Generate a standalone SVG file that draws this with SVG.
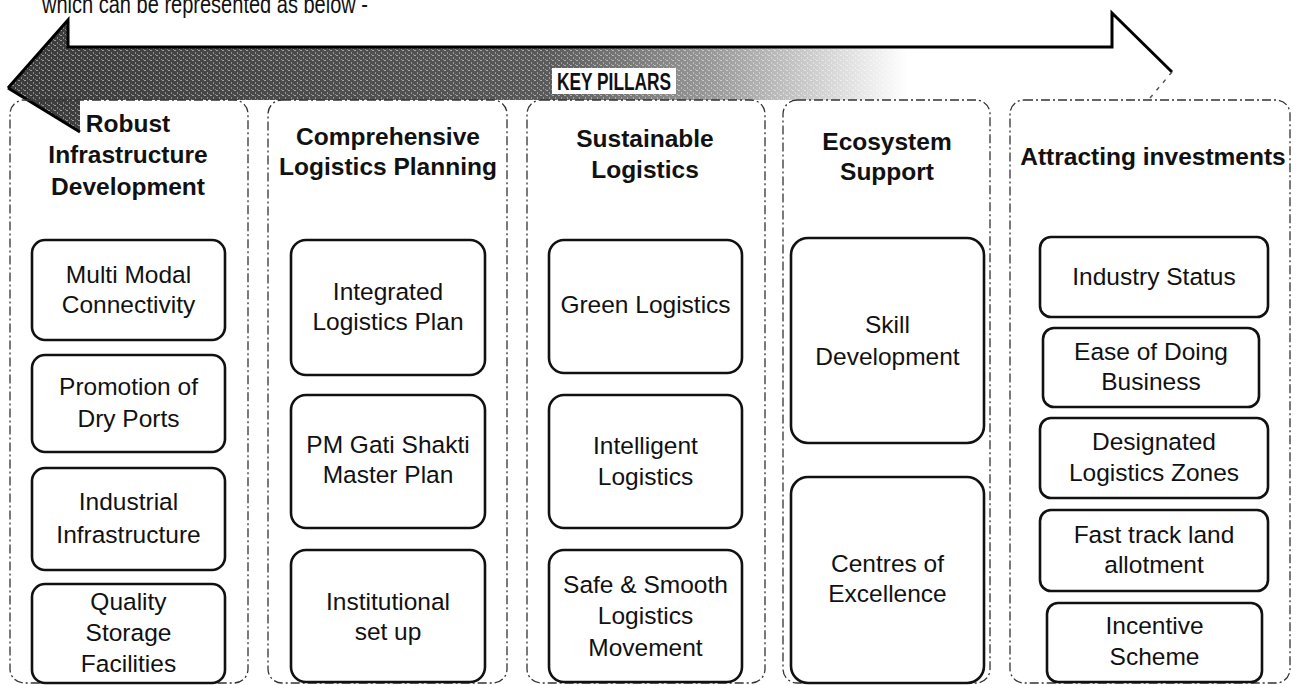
<svg xmlns="http://www.w3.org/2000/svg" width="1297" height="685" viewBox="0 0 1297 685">
<defs>
<linearGradient id="shaft" x1="0" y1="0" x2="1297" y2="0" gradientUnits="userSpaceOnUse">
<stop offset="0" stop-color="#3a3a3a"/>
<stop offset="0.42" stop-color="#5a5a5a"/>
<stop offset="0.55" stop-color="#9a9a9a"/>
<stop offset="0.70" stop-color="#ffffff"/>
<stop offset="1" stop-color="#ffffff"/>
</linearGradient>
<pattern id="noise" width="6" height="5" patternUnits="userSpaceOnUse">
<rect x="0" y="0" width="2" height="1" fill="#fff" opacity="0.6"/>
<rect x="3" y="2" width="1" height="2" fill="#fff" opacity="0.5"/>
<rect x="5" y="4" width="1" height="1" fill="#fff" opacity="0.5"/>
</pattern>
</defs>
<style>
.panel{fill:none;stroke:#333;stroke-width:1.3;stroke-dasharray:9 3 2 3}
.box{fill:#fff;stroke:#111;stroke-width:2.6}
.h{font-family:"Liberation Sans",Arial,sans-serif;font-weight:bold;font-size:24.5px;fill:#111;text-anchor:middle}
.t{font-family:"Liberation Sans",Arial,sans-serif;font-size:24.5px;fill:#111;text-anchor:middle}
.intro{font-family:"Liberation Sans",Arial,sans-serif;font-size:25px;fill:#111}
</style>
<rect width="1297" height="685" fill="#fff"/>
<text class="intro" x="42" y="13" textLength="326" lengthAdjust="spacingAndGlyphs">which can be represented as below -</text>

<g id="arrow">
<polygon points="8,88 68,20 68,47 1112,47 1112,13 1172,72 1120,128 1120,100 80,100 80,132" fill="url(#shaft)"/>
<polygon points="8,88 68,20 68,47 1112,47 1112,13 1172,72 1120,128 1120,100 80,100 80,132" fill="url(#noise)" opacity="0.8"/>
<path d="M8,88 L68,20 L68,47 L1112,47 L1112,13 L1172,72" fill="none" stroke="#000" stroke-width="3"/>
<path d="M8,88 L80,132" fill="none" stroke="#000" stroke-width="3"/>
<path d="M1172,72 L1150,98" fill="none" stroke="#555" stroke-width="1.5" stroke-dasharray="4 6"/>
<rect x="552" y="68" width="124" height="26" fill="#fff"/>
<text x="557" y="90" textLength="114" lengthAdjust="spacingAndGlyphs" style="font-family:'Liberation Sans',Arial,sans-serif;font-weight:bold;font-size:23px;fill:#111">KEY PILLARS</text>
</g>

<g id="panels">
<rect class="panel" x="10" y="100" width="238" height="583" rx="14"/>
<rect class="panel" x="268" y="100" width="239" height="583" rx="14"/>
<rect class="panel" x="527" y="100" width="238" height="583" rx="14"/>
<rect class="panel" x="783" y="100" width="207" height="583" rx="14"/>
<rect class="panel" x="1010" y="100" width="280" height="583" rx="14"/>
</g>

<g id="col1">
<text class="h" x="128" y="132">Robust</text>
<text class="h" x="128" y="163">Infrastructure</text>
<text class="h" x="128" y="195">Development</text>
</g>
<g id="col2">
<text class="h" x="388" y="145">Comprehensive</text>
<text class="h" x="388" y="175">Logistics Planning</text>
</g>
<g id="col3">
<text class="h" x="645" y="147">Sustainable</text>
<text class="h" x="645" y="178">Logistics</text>
</g>
<g id="col4">
<text class="h" x="887" y="150">Ecosystem</text>
<text class="h" x="887" y="180">Support</text>
</g>
<g id="col5">
<text class="h" x="1153" y="165">Attracting investments</text>
</g>

<g id="n-multimodal"><rect class="box" x="32" y="240" width="193" height="100" rx="13"/>
<text class="t" x="128.5" y="283">Multi Modal</text><text class="t" x="128.5" y="313">Connectivity</text></g>
<g id="n-dryports"><rect class="box" x="32" y="355" width="193" height="97" rx="13"/>
<text class="t" x="128.5" y="395">Promotion of</text><text class="t" x="128.5" y="427">Dry Ports</text></g>
<g id="n-industrial"><rect class="box" x="32" y="468" width="193" height="102" rx="13"/>
<text class="t" x="128.5" y="510">Industrial</text><text class="t" x="128.5" y="543">Infrastructure</text></g>
<g id="n-storage"><rect class="box" x="32" y="584" width="193" height="99" rx="13"/>
<text class="t" x="128.5" y="610">Quality</text><text class="t" x="128.5" y="641">Storage</text><text class="t" x="128.5" y="672">Facilities</text></g>

<g id="n-ilp"><rect class="box" x="291" y="240" width="194" height="135" rx="15"/>
<text class="t" x="388" y="300">Integrated</text><text class="t" x="388" y="330">Logistics Plan</text></g>
<g id="n-gati"><rect class="box" x="291" y="395" width="194" height="133" rx="15"/>
<text class="t" x="388" y="453">PM Gati Shakti</text><text class="t" x="388" y="483">Master Plan</text></g>
<g id="n-inst"><rect class="box" x="291" y="550" width="194" height="132" rx="15"/>
<text class="t" x="388" y="610">Institutional</text><text class="t" x="388" y="640">set up</text></g>

<g id="n-green"><rect class="box" x="549" y="240" width="193" height="133" rx="15"/>
<text class="t" x="645.5" y="313">Green Logistics</text></g>
<g id="n-intel"><rect class="box" x="549" y="395" width="193" height="133" rx="15"/>
<text class="t" x="645.5" y="454">Intelligent</text><text class="t" x="645.5" y="485">Logistics</text></g>
<g id="n-safe"><rect class="box" x="549" y="550" width="193" height="132" rx="15"/>
<text class="t" x="645.5" y="593">Safe &amp; Smooth</text><text class="t" x="645.5" y="624">Logistics</text><text class="t" x="645.5" y="656">Movement</text></g>

<g id="n-skill"><rect class="box" x="791" y="238" width="193" height="205" rx="17"/>
<text class="t" x="887.5" y="333">Skill</text><text class="t" x="887.5" y="365">Development</text></g>
<g id="n-coe"><rect class="box" x="791" y="477" width="193" height="206" rx="17"/>
<text class="t" x="887.5" y="572">Centres of</text><text class="t" x="887.5" y="602">Excellence</text></g>

<g id="n-status"><rect class="box" x="1040" y="237" width="228" height="80" rx="11"/>
<text class="t" x="1154" y="285">Industry Status</text></g>
<g id="n-ease"><rect class="box" x="1043" y="328" width="216" height="79" rx="11"/>
<text class="t" x="1151" y="360">Ease of Doing</text><text class="t" x="1151" y="390">Business</text></g>
<g id="n-zones"><rect class="box" x="1040" y="418" width="228" height="80" rx="11"/>
<text class="t" x="1154" y="450">Designated</text><text class="t" x="1154" y="481">Logistics Zones</text></g>
<g id="n-land"><rect class="box" x="1040" y="510" width="228" height="81" rx="11"/>
<text class="t" x="1154" y="543">Fast track land</text><text class="t" x="1154" y="573">allotment</text></g>
<g id="n-incentive"><rect class="box" x="1047" y="603" width="215" height="79" rx="11"/>
<text class="t" x="1154.5" y="634">Incentive</text><text class="t" x="1154.5" y="665">Scheme</text></g>

<g id="connectors"></g>
</svg>
